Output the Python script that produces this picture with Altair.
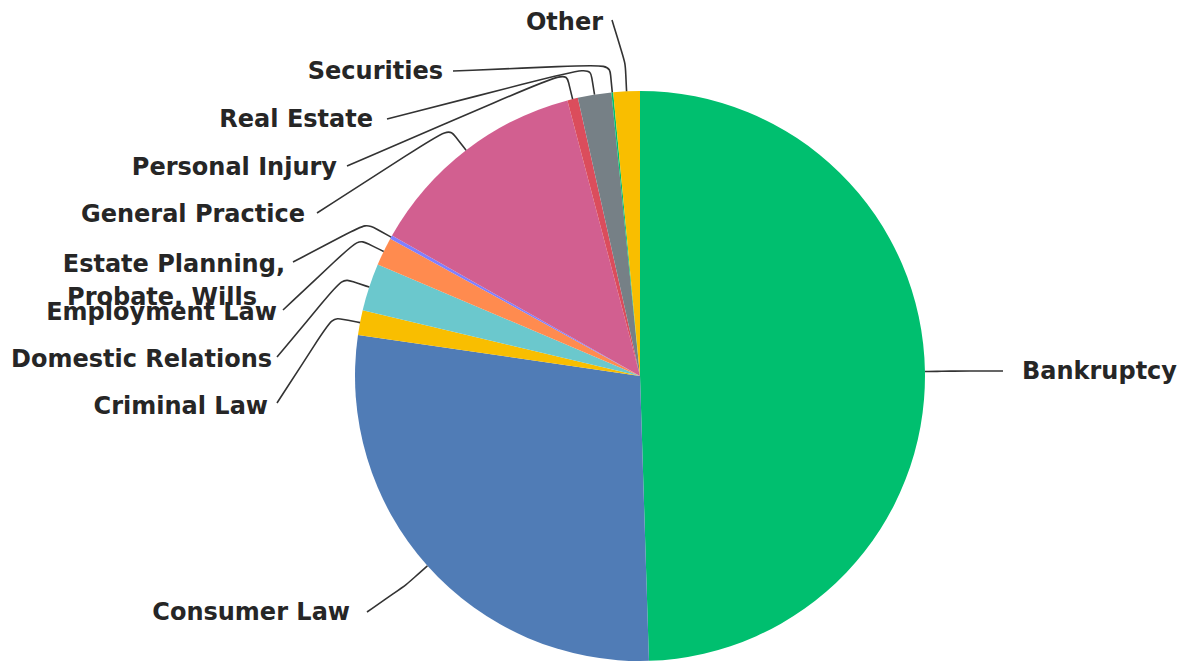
import math
import altair as alt
import pandas as pd

# ---- data ----
categories = ["Bankruptcy", "Consumer Law", "Criminal Law", "Domestic Relations",
              "Employment Law", "Estate Planning, Probate, Wills", "General Practice",
              "Personal Injury", "Real Estate", "Securities", "Other"]
values = [49.5, 27.8, 1.4, 2.7, 1.6, 0.2, 12.7, 0.6, 1.9, 0.1, 1.5]
label_lines = [["Bankruptcy"], ["Consumer Law"], ["Criminal Law"], ["Domestic Relations"],
               ["Employment Law"], ["Estate Planning,", "Probate, Wills"], ["General Practice"],
               ["Personal Injury"], ["Real Estate"], ["Securities"], ["Other"]]

# ---- style / layout ----
colors = ["#00BF6F", "#507CB6", "#F9BE00", "#6BC8CD", "#FF8B4F", "#7F7FFF",
          "#D25F90", "#DB4D5C", "#768086", "#00BF6F", "#F9BE00"]
W, H = 1170, 654
CX, CY, R = 632, 368, 285
BREAK = 28
# point where each leader line meets its label (chart pixels)
leader_start = [(995, 363), (359, 604), (269, 395), (269, 349), (275, 302), (285, 254),
                (309, 205), (339, 158), (379, 111), (445, 63), (604, 12)]
# text anchor for each line of each label: (x, y, align)
text_pos = [[(1014, 364, "left")], [(342, 605, "right")], [(260, 399, "right")],
            [(264, 352, "right")], [(269, 305, "right")],
            [(277, 257, "right"), (249, 290, "right")],
            [(297, 207, "right")], [(329, 160, "right")], [(365, 112, "right")],
            [(435, 64, "right")], [(595, 15, "right")]]

pie_df = pd.DataFrame({"cat": categories, "value": values, "idx": range(len(values))})

# leader lines derived from slice mid-angles
total = sum(values)
rows = []
cum = 0.0
for i, v in enumerate(values):
    mid = (cum + v / 2) / total * 2 * math.pi
    cum += v
    ax, ay = CX + R * math.sin(mid), CY - R * math.cos(mid)
    bx, by = CX + (R + BREAK) * math.sin(mid), CY - (R + BREAK) * math.cos(mid)
    lx, ly = leader_start[i]
    p1 = (bx + 0.25 * (lx - bx), by + 0.25 * (ly - by))
    p2 = (bx + 0.35 * (ax - bx), by + 0.35 * (ay - by))
    pts = [(lx, ly), p1, (bx, by), p2, (ax, ay)]
    for k, (px, py) in enumerate(pts):
        rows.append({"cat": categories[i], "k": k, "x": px, "y": py})
line_df = pd.DataFrame(rows)

trows = []
for i, lines in enumerate(label_lines):
    for j, t in enumerate(lines):
        x, y, al = text_pos[i][j]
        trows.append({"text": t, "x": x, "y": y, "align": al})
text_df = pd.DataFrame(trows)

xs = alt.X("x:Q", scale=alt.Scale(domain=[0, W], nice=False, zero=False), axis=None)
ys = alt.Y("y:Q", scale=alt.Scale(domain=[0, H], nice=False, zero=False, reverse=True), axis=None)

pie = alt.Chart(pie_df).mark_arc(radius=R).encode(
    theta=alt.Theta("value:Q", stack=True),
    color=alt.Color("cat:N", scale=alt.Scale(domain=categories, range=colors), legend=None),
    order=alt.Order("idx:Q"),
    x=alt.value(CX), y=alt.value(CY),
)

lines = alt.Chart(line_df).mark_line(interpolate="basis", color="#333333", strokeWidth=1.6).encode(
    x=xs, y=ys, detail="cat:N", order="k:Q"
)

tfont = dict(font="DejaVu Sans", fontSize=24, fontWeight="bold", color="#262626", baseline="middle")
text_r = alt.Chart(text_df).transform_filter(alt.datum.align == "right").mark_text(
    align="right", **tfont).encode(x=xs, y=ys, text="text:N")
text_l = alt.Chart(text_df).transform_filter(alt.datum.align == "left").mark_text(
    align="left", **tfont).encode(x=xs, y=ys, text="text:N")

chart = alt.layer(pie, lines, text_r, text_l).properties(
    width=W, height=H, autosize=alt.AutoSizeParams(type="none"), padding=0,
    background="white"
).configure_view(stroke=None)

chart.save("out.html", embed_options={"renderer": "svg", "actions": False})
